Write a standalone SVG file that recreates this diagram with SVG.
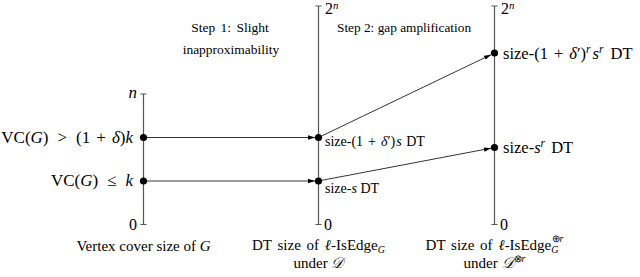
<svg xmlns="http://www.w3.org/2000/svg" width="640" height="277" viewBox="0 0 640 277" font-family="Liberation Serif">
<style>
.i{font-style:italic}
.axis{stroke:#555;stroke-width:1.2;fill:none}
.conn{stroke:#000;stroke-width:0.8;fill:none;marker-end:url(#ah)}
</style>
<defs>
<marker id="ah" markerWidth="8" markerHeight="6" refX="7" refY="3" orient="auto" markerUnits="userSpaceOnUse">
<path d="M0,0.8 L7,3 L0,5.2 Z" fill="#000"/>
</marker>
</defs>
<g id="axis1">
<path class="axis" d="M143.5,94 V224.5 M140.5,94 H146.5 M140.5,224.5 H146.5"/>
<text font-family="Liberation Serif" font-style="italic" font-size="17" x="137" y="98" text-anchor="end">n</text>
<text font-family="Liberation Serif" font-size="16" x="137" y="230" text-anchor="end">0</text>
<circle cx="143.5" cy="137.5" r="3.6"/>
<circle cx="143.5" cy="181" r="3.6"/>
<text font-family="Liberation Serif" font-size="17" x="133" y="143" text-anchor="end">VC(<tspan class="i">G</tspan>)<tspan dx="9">&gt;</tspan><tspan dx="9">(1</tspan><tspan dx="6">+</tspan><tspan class="i" dx="6">δ</tspan>)<tspan class="i">k</tspan></text>
<text font-family="Liberation Serif" font-size="17" x="133" y="186" text-anchor="end">VC(<tspan class="i">G</tspan>)<tspan dx="9">≤</tspan><tspan class="i" dx="9">k</tspan></text>
<text font-family="Liberation Serif" font-size="15" x="143.5" y="251" text-anchor="middle">Vertex cover size of <tspan class="i">G</tspan></text>
</g>
<g id="axis2">
<path class="axis" d="M318.5,6 V224.5 M315.5,6 H321.5 M315.5,224.5 H321.5"/>
<text font-family="Liberation Serif" font-size="16" x="325" y="14">2<tspan class="i" font-size="11" dy="-5">n</tspan></text>
<text font-family="Liberation Serif" font-size="16" x="324" y="230">0</text>
<circle cx="318.5" cy="137.5" r="3.6"/>
<circle cx="318.5" cy="181" r="3.6"/>
<text font-family="Liberation Serif" font-size="14" x="325" y="146">size-(1<tspan dx="5">+</tspan><tspan class="i" dx="5">δ</tspan>′)<tspan class="i" dx="1">s</tspan><tspan dx="1"> DT</tspan></text>
<text font-family="Liberation Serif" font-size="14" x="325" y="193">size-<tspan class="i">s</tspan> DT</text>
<text font-family="Liberation Serif" font-size="15" x="318.5" y="250" text-anchor="middle" word-spacing="2">DT size of <tspan class="i">ℓ</tspan>-IsEdge<tspan class="i" font-size="10" dy="3">G</tspan></text>
<text font-family="Liberation Serif" font-size="15" x="318.5" y="268" text-anchor="middle">under <tspan class="i">𝒟</tspan></text>
</g>
<g id="axis3">
<path class="axis" d="M494.5,6 V224.5 M491.5,6 H497.5 M491.5,224.5 H497.5"/>
<text font-family="Liberation Serif" font-size="16" x="501" y="14">2<tspan class="i" font-size="11" dy="-5">n</tspan></text>
<text font-family="Liberation Serif" font-size="16" x="500" y="230">0</text>
<circle cx="494.5" cy="53" r="3.6"/>
<circle cx="494.5" cy="147.5" r="3.6"/>
<text font-family="Liberation Serif" font-size="16.5" x="503" y="59">size-(1<tspan dx="6">+</tspan><tspan class="i" dx="6">δ</tspan>′)<tspan class="i" font-size="11.5" dy="-6">r</tspan><tspan class="i" dx="2" dy="6">s</tspan><tspan class="i" font-size="11.5" dy="-6">r</tspan><tspan dx="3" dy="6"> DT</tspan></text>
<text font-family="Liberation Serif" font-size="16.5" x="503" y="153">size-<tspan class="i">s</tspan><tspan class="i" font-size="11.5" dy="-6">r</tspan><tspan dx="2" dy="6"> DT</tspan></text>
<text font-family="Liberation Serif" font-size="15" x="494.5" y="250" text-anchor="middle" word-spacing="2">DT size of <tspan class="i">ℓ</tspan>-IsEdge<tspan class="i" font-size="10" dy="3">G</tspan><tspan font-size="10" dx="-7" dy="-11">⊕</tspan><tspan class="i" font-size="10">r</tspan></text>
<text font-family="Liberation Serif" font-size="15" x="494.5" y="268" text-anchor="middle">under <tspan class="i">𝒟</tspan><tspan font-size="10" dy="-6">⊗</tspan><tspan class="i" font-size="10">r</tspan></text>
</g>
<g id="steps">
<text font-family="Liberation Serif" font-size="13.5" x="230" y="32" text-anchor="middle" word-spacing="2">Step 1: Slight</text>
<text font-family="Liberation Serif" font-size="13.5" x="231" y="54" text-anchor="middle">inapproximability</text>
<text font-family="Liberation Serif" font-size="13.3" x="337" y="32">Step 2: gap amplification</text>
</g>
<g id="connectors">
<line class="conn" x1="147" y1="137.5" x2="315" y2="137.5"/>
<line class="conn" x1="147" y1="181" x2="315" y2="181"/>
<line class="conn" x1="322" y1="135.8" x2="491" y2="54.7"/>
<line class="conn" x1="322" y1="180.3" x2="491" y2="148.2"/>
</g>
</svg>
